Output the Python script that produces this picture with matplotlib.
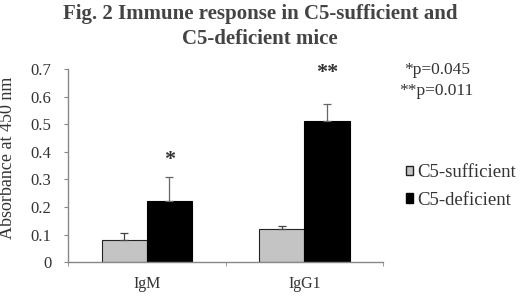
import numpy as np
import matplotlib.pyplot as plt
from matplotlib.patches import Patch

categories = ['IgM', 'IgG1']
sufficient = [0.08, 0.12]
sufficient_err = [0.026, 0.01]
deficient = [0.222, 0.51]
deficient_err = [0.087, 0.065]
stars = ['*', '**']
p_notes = ['*p=0.045', '**p=0.011']

plt.rcParams['font.family'] = ['Liberation Serif', 'DejaVu Serif']
txt = '#333333'

fig = plt.figure(figsize=(5.2, 3.03), dpi=100)
ax = fig.add_axes([0.131, 0.135, 0.606, 0.637])

x = np.arange(len(categories))
w = 0.286
ax.bar(x - w / 2, sufficient, w, color='#c4c4c4', edgecolor='#222222', linewidth=0.8,
       yerr=[np.zeros(2), sufficient_err], error_kw=dict(ecolor='#444444', elinewidth=0.9, capsize=3, capthick=0.9),
       label='C5-sufficient')
ax.bar(x + w / 2, deficient, w, color='black', edgecolor='black', linewidth=0.8,
       yerr=[np.zeros(2), deficient_err], error_kw=dict(ecolor='#666666', elinewidth=0.9, capsize=3, capthick=0.9),
       label='C5-deficient')

star_y = [0.37, 0.685]
for i in range(len(categories)):
    ax.text(x[i] + w / 2, star_y[i], stars[i], ha='center', va='center', fontsize=16,
            fontweight='bold', color=txt)

ax.set_xlim(-0.5, 1.5)
ax.set_ylim(0, 0.7)
ax.set_yticks(np.arange(0, 0.71, 0.1))
ax.set_yticklabels(['0', '0.1', '0.2', '0.3', '0.4', '0.5', '0.6', '0.7'])
ax.set_xticks(x)
ax.set_xticklabels(categories)
ax.set_xticks([-0.5, 0.5, 1.5], minor=True)
ax.tick_params(axis='x', which='major', length=0, pad=10, labelsize=11.5, colors=txt)
ax.tick_params(axis='x', which='minor', length=3, color='#888888')
ax.tick_params(axis='y', length=3, color='#888888', labelsize=12, labelcolor=txt, pad=9)
for s in ['top', 'right']:
    ax.spines[s].set_visible(False)
for s in ['left', 'bottom']:
    ax.spines[s].set_color('#888888')
    ax.spines[s].set_linewidth(1)

ax.set_ylabel('Absorbance at 450 nm', fontsize=13, color=txt)
ax.yaxis.set_label_coords(-0.165, 0.54)

fig.text(0.5, 0.955, 'Fig. 2 Immune response in C5-sufficient and', ha='center', va='center',
         fontsize=15, fontweight='bold', color='#444444')
fig.text(0.5, 0.87, 'C5-deficient mice', ha='center', va='center',
         fontsize=15, fontweight='bold', color='#444444')

fig.text(0.905, 0.768, p_notes[0], ha='right', va='center', fontsize=12.5, color=txt)
fig.text(0.91, 0.70, p_notes[1], ha='right', va='center', fontsize=12.5, color=txt)

handles = [Patch(facecolor='#c4c4c4', edgecolor='#222222', label='C5-sufficient'),
           Patch(facecolor='black', edgecolor='black', label='C5-deficient')]
fig.legend(handles=handles, loc='center left', bbox_to_anchor=(0.78, 0.385), frameon=False,
           fontsize=13.5, handlelength=0.4, handleheight=0.4, handletextpad=0.2, labelspacing=0.55,
           borderaxespad=0, borderpad=0, labelcolor=txt)

fig.savefig('out.png', dpi=100)
